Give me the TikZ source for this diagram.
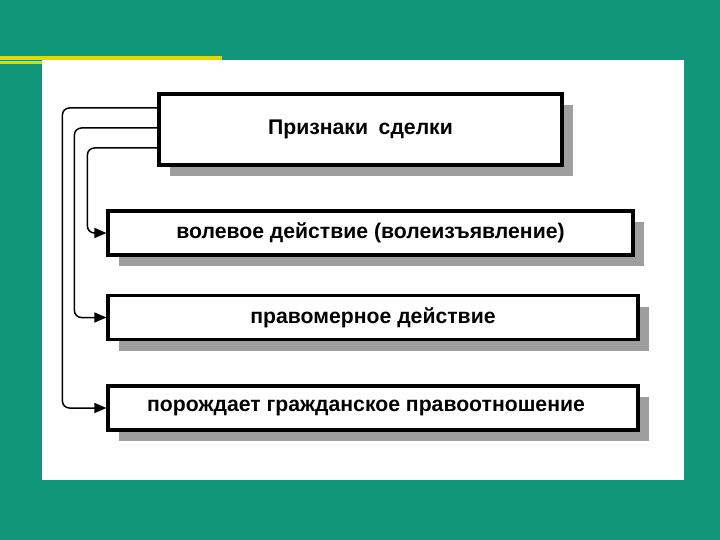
\documentclass[tikz,border=0pt]{standalone}
\usepackage{fontspec}
\setmainfont{Liberation Sans}
\usetikzlibrary{arrows.meta,shadows}
\definecolor{bgteal}{RGB}{16,150,120}
\definecolor{yel}{RGB}{228,214,0}
\begin{document}
\begin{tikzpicture}[x=1pt,y=-1pt,
  box/.style={draw=black, line width=3.2pt, fill=white, inner sep=0pt,
    font=\fontsize{21.2}{25}\selectfont\bfseries,
    general shadow={shadow xshift=11pt, shadow yshift=-11pt, fill=black!38}},
  conn/.style={draw=black, line width=1.5pt, rounded corners=7pt, -{Triangle[length=12pt,width=10pt]}}]
\useasboundingbox (0,0) rectangle (720,540);
\fill[bgteal] (0,0) rectangle (720,540);
\fill[yel] (0,56.5) rectangle (222,60);
\fill[yel] (0,61.5) rectangle (42,64);
\fill[white] (42,60) rectangle (684,480);
\node[box, minimum width=403pt, minimum height=71pt] (t) at (360.5,129.5) {\raisebox{-2pt}{Признаки\enspace сделки}};
\node[box, minimum width=525pt, minimum height=44pt] (b1) at (370.5,233) {\raisebox{-1.5pt}{волевое действие (волеизъявление)}};
\node[box, minimum width=530pt, minimum height=44pt] (b2) at (373,317.5) {\raisebox{-1pt}{правомерное действие}};
\node[box, minimum width=530pt, minimum height=44pt] (b3) at (373,408) {\kern-14pt\raisebox{-1.5pt}{порождает гражданское правоотношение}};
\draw[conn] ([yshift=21.5pt]t.west) -| ([xshift=-44pt]b3.west) -- (b3.west);
\draw[conn] ([yshift=1.5pt]t.west) -| ([xshift=-32pt]b2.west) -- (b2.west);
\draw[conn] ([yshift=-18.5pt]t.west) -| ([xshift=-19pt]b1.west) -- (b1.west);
\end{tikzpicture}
\end{document}
